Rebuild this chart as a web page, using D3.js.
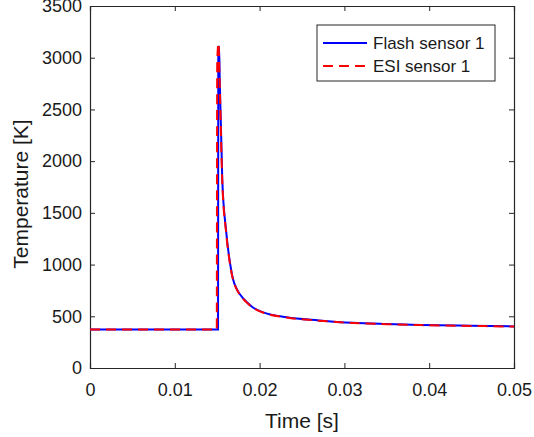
<!DOCTYPE html>
<html>
<head>
<meta charset="utf-8">
<script src="https://cdn.jsdelivr.net/npm/d3@7"></script>
<style>
  body { margin: 0; background: #fff; }
  text { font-family: "Liberation Sans", Arial, sans-serif; fill: #1a1a1a; }
</style>
</head>
<body>
<div id="chart"></div>
<script>
// tick values
var xTicks = [0, 0.01, 0.02, 0.03, 0.04, 0.05];
var yTicks = [0, 500, 1000, 1500, 2000, 2500, 3000, 3500];

// series: [time s, temperature K]
var flashSensor1 = [
    [0, 372], [0.01510, 372], [0.01513, 3050], [0.01522, 3110], [0.01530, 2780],
    [0.01560, 1820], [0.01604, 1335], [0.01651, 1015], [0.01686, 860], [0.01730, 765],
    [0.01770, 710], [0.01850, 635], [0.01922, 585], [0.02050, 535], [0.02320, 490],
    [0.02700, 460], [0.03100, 437], [0.03500, 425], [0.03900, 416], [0.04500, 408], [0.05, 402]
];
var esiSensor1 = [
    [0, 372], [0.01495, 372], [0.01500, 2950], [0.01515, 3140], [0.01527, 2820],
    [0.01560, 1800], [0.01604, 1320], [0.01651, 1005], [0.01686, 855], [0.01730, 760],
    [0.01770, 705], [0.01850, 632], [0.01922, 582], [0.02050, 533], [0.02320, 488],
    [0.02700, 458], [0.03100, 436], [0.03500, 424], [0.03900, 415], [0.04500, 407], [0.05, 401]
];
var seriesNames = ["Flash sensor 1", "ESI sensor 1"];

var width = 534, height = 437;
var margin = { left: 90, top: 6, right: 20, bottom: 69 };

var svg = d3.select("#chart").append("svg")
    .attr("width", width)
    .attr("height", height);

var x = d3.scaleLinear().domain([0, 0.05]).range([margin.left, width - margin.right]);
var y = d3.scaleLinear().domain([0, 3500]).range([height - margin.bottom, margin.top]);

// axes, ticks pointing inward (matlab style)
var fmtX = function (d) { return d === 0 ? "0" : d3.format(".2f")(d); };
svg.append("g")
    .attr("transform", "translate(0," + y(0) + ")")
    .call(d3.axisBottom(x).tickValues(xTicks).tickSize(-5).tickPadding(15).tickFormat(fmtX))
    .call(g => g.selectAll("text").style("font-size", "18px"));
svg.append("g")
    .attr("transform", "translate(0," + y(3500) + ")")
    .call(d3.axisTop(x).tickValues(xTicks).tickSize(-5).tickFormat(""));
svg.append("g")
    .attr("transform", "translate(" + x(0) + ",0)")
    .call(d3.axisLeft(y).tickValues(yTicks).tickSize(-5).tickPadding(8).tickFormat(d3.format("d")))
    .call(g => g.selectAll("text").style("font-size", "18px"));
svg.append("g")
    .attr("transform", "translate(" + x(0.05) + ",0)")
    .call(d3.axisRight(y).tickValues(yTicks).tickSize(-5).tickFormat(""));

svg.selectAll(".domain").attr("stroke", "#262626").attr("stroke-width", 1.2);
svg.selectAll(".tick line").attr("stroke", "#262626");

// lines
var line = d3.line().x(d => x(d[0])).y(d => y(d[1])).curve(d3.curveMonotoneX);
svg.append("path")
    .datum(flashSensor1)
    .attr("d", line)
    .attr("fill", "none")
    .attr("stroke", "#0000ff")
    .attr("stroke-width", 2);
svg.append("path")
    .datum(esiSensor1)
    .attr("d", line)
    .attr("fill", "none")
    .attr("stroke", "#ff0000")
    .attr("stroke-width", 2)
    .attr("stroke-dasharray", "10,6");

// axis titles
svg.append("text")
    .attr("x", (x(0) + x(0.05)) / 2)
    .attr("y", 428)
    .attr("text-anchor", "middle")
    .style("font-size", "21px")
    .text("Time [s]");
svg.append("text")
    .attr("transform", "translate(28,194) rotate(-90)")
    .attr("text-anchor", "middle")
    .style("font-size", "21px")
    .text("Temperature [K]");

// legend
var legend = svg.append("g").attr("transform", "translate(317,25)");
legend.append("rect")
    .attr("width", 178)
    .attr("height", 56)
    .attr("fill", "#fff")
    .attr("stroke", "#262626")
    .attr("stroke-width", 1);
var styles = [
    { color: "#0000ff", dash: null },
    { color: "#ff0000", dash: "10,6" }
];
seriesNames.forEach(function (name, i) {
    var yy = 18 + i * 23;
    legend.append("line")
        .attr("x1", 6).attr("x2", 50)
        .attr("y1", yy).attr("y2", yy)
        .attr("stroke", styles[i].color)
        .attr("stroke-width", 2)
        .attr("stroke-dasharray", styles[i].dash);
    legend.append("text")
        .attr("x", 56)
        .attr("y", yy + 6)
        .style("font-size", "17px")
        .text(name);
});
</script>
</body>
</html>
